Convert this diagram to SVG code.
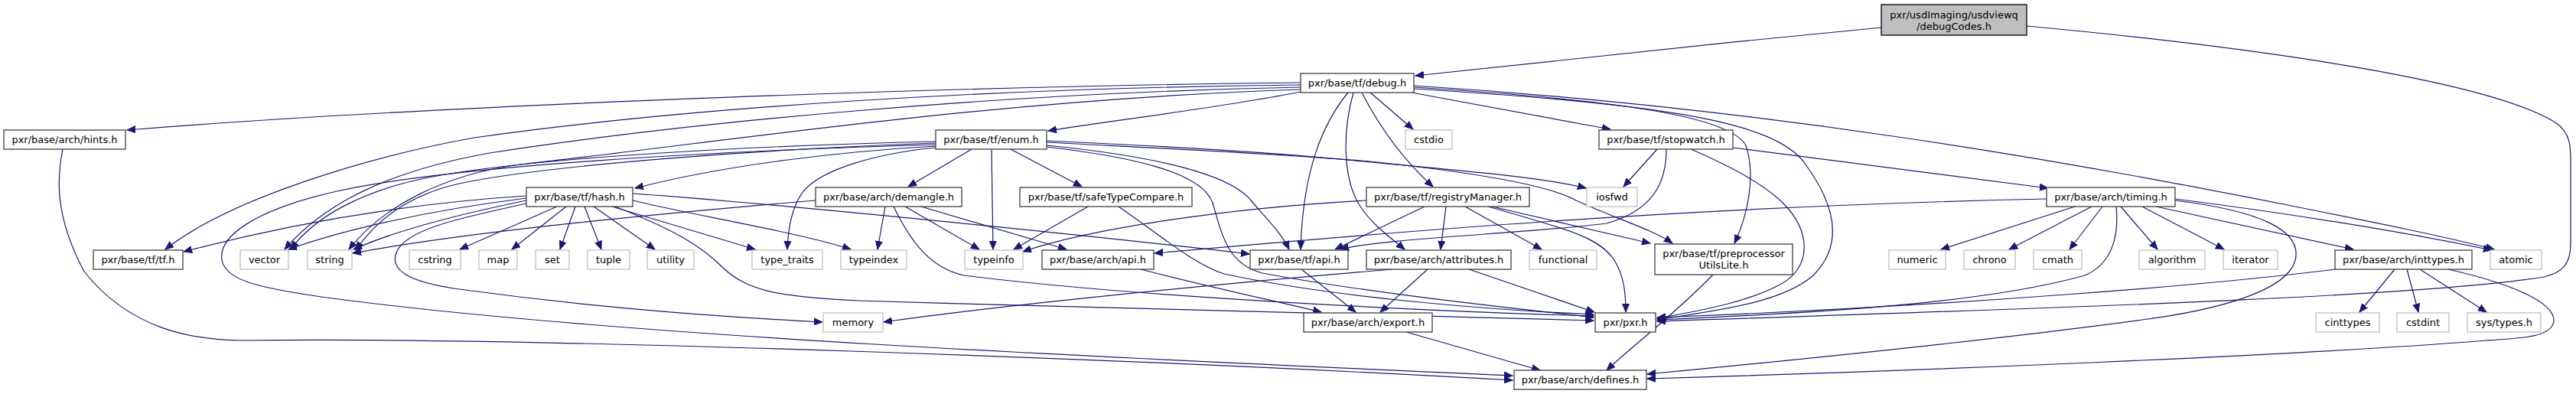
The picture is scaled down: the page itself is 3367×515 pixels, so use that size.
<svg xmlns="http://www.w3.org/2000/svg" width="3367" height="515" viewBox="0 0 3367 515">
<style>
rect{stroke-width:1.3}
.n rect{fill:#fff;stroke:#404040}
.x rect{fill:#fff;stroke:#bfbfbf}
.r rect{fill:#bfbfbf;stroke:#000}
text{font-family:"DejaVu Sans","Liberation Sans",sans-serif;font-size:13px;text-anchor:middle;fill:#000}
#edges path{fill:none;stroke:#191970;stroke-width:1.2;marker-end:url(#a)}
</style>
<defs>
<marker id="a" markerUnits="userSpaceOnUse" markerWidth="12" markerHeight="10" viewBox="0 0 12 10" refX="11" refY="5" orient="auto"><path d="M0,0.5 L11,5 L0,9.5 z" fill="#191970" stroke="#191970" stroke-width="1"/></marker>
</defs>
<rect width="3367" height="515" fill="#fff"/>
<g id="edges">
<path d="M2459,36 C2250,56 2000,82 1850,99"/>
<path d="M2649,34 C2950,62 3250,105 3340,160 C3362,175 3360,195 3360,220 L3360,318 C3360,345 3350,356 3325,362 C3150,390 2600,405 2166,420"/>
<path d="M1700,108 C1300,112 600,135 166,170"/>
<path d="M1700,111 C1300,115 900,140 620,180 C480,205 300,260 216,326"/>
<path d="M1700,114 C1300,122 900,160 640,200 C500,225 420,270 372,326"/>
<path d="M1700,117 C1300,130 950,185 680,215 C580,228 500,270 456,326"/>
<path d="M1700,120 C1600,140 1450,158 1370,171"/>
<path d="M1791,121 L1847,169"/>
<path d="M1845,121 L2105,169"/>
<path d="M1780,121 C1800,160 1830,205 1873,244"/>
<path d="M1762,121 C1730,160 1703,220 1700,326"/>
<path d="M1769,121 C1755,170 1755,230 1775,265 C1790,290 1810,305 1836,326"/>
<path d="M1848,112 C2300,140 2700,210 3000,270 C3100,290 3200,310 3260,326"/>
<path d="M1848,114 C2100,130 2260,150 2282,190 C2295,230 2285,280 2267,318"/>
<path d="M1848,116 C2150,135 2320,155 2360,215 C2400,270 2410,320 2370,360 C2330,395 2250,405 2166,418"/>
<path d="M2166,195 L2122,244"/>
<path d="M2178,195 C2178,240 2160,275 2100,292 C2000,305 1800,312 1752,326"/>
<path d="M2265,193 L2677,246"/>
<path d="M2210,195 C2245,210 2300,235 2330,265 C2370,305 2365,350 2330,370 C2290,393 2230,405 2166,416"/>
<path d="M1223,191 C1100,198 950,215 830,246"/>
<path d="M1223,185 C1000,190 700,205 560,232 C470,250 410,285 380,326"/>
<path d="M1223,187 C1000,195 720,215 600,240 C530,256 490,290 465,327"/>
<path d="M1223,189 C950,197 600,215 440,250 C330,275 285,310 290,340 C295,365 330,375 420,388 C800,440 1500,470 1977,491"/>
<path d="M1223,193 C1150,200 1075,220 1050,250 C1035,270 1030,300 1029,326"/>
<path d="M1270,195 L1187,244"/>
<path d="M1296,195 L1298,326"/>
<path d="M1321,195 L1414,244"/>
<path d="M1368,184 C1500,190 1650,198 1750,208 C1900,222 2020,232 2073,246"/>
<path d="M1368,186 C1500,193 1700,202 1800,212 C1950,228 2030,245 2060,262 C2110,285 2160,300 2186,318"/>
<path d="M1368,190 C1520,205 1610,230 1635,262 C1655,285 1675,305 1685,326"/>
<path d="M1368,192 C1480,205 1570,225 1585,265 C1598,310 1605,345 1650,357 C1800,385 2000,405 2083,415"/>
<path d="M688,256 C500,268 350,300 240,329"/>
<path d="M688,259 C560,275 450,300 377,326"/>
<path d="M688,262 C600,280 520,300 462,326"/>
<path d="M728,270 L601,326"/>
<path d="M740,270 L669,326"/>
<path d="M752,270 L732,326"/>
<path d="M764,270 L786,326"/>
<path d="M776,270 L856,326"/>
<path d="M800,270 L987,326"/>
<path d="M827,262 C900,280 1050,305 1112,326"/>
<path d="M827,253 C1000,265 1400,305 1633,332"/>
<path d="M688,266 C600,285 530,300 518,330 C510,352 530,368 600,378 C800,405 960,415 1075,421"/>
<path d="M804,270 C880,300 915,320 945,350 C975,378 1010,388 1122,393 C1500,405 1900,413 2083,419"/>
<path d="M1066,262 C850,280 600,305 461,331"/>
<path d="M1157,270 L1147,326"/>
<path d="M1183,270 L1280,326"/>
<path d="M1204,270 L1394,326"/>
<path d="M1168,270 C1190,315 1215,350 1260,360 C1500,390 1900,408 2083,413"/>
<path d="M1422,270 L1325,326"/>
<path d="M1462,270 C1520,310 1560,345 1600,358 C1750,390 1950,405 2083,411"/>
<path d="M1786,262 C1600,272 1420,300 1337,329"/>
<path d="M1862,270 L1745,326"/>
<path d="M1890,270 L1883,326"/>
<path d="M1915,270 L2015,326"/>
<path d="M1950,270 L2157,318"/>
<path d="M1945,270 C2050,300 2090,310 2110,340 C2122,360 2125,380 2125,408"/>
<path d="M1701,352 L1772,408"/>
<path d="M1491,352 C1580,375 1660,392 1727,408"/>
<path d="M1866,352 L1804,408"/>
<path d="M1820,352 C1600,370 1300,400 1155,421"/>
<path d="M1920,352 L2084,408"/>
<path d="M1838,434 L2013,484"/>
<path d="M2239,359 C2190,410 2130,455 2100,484"/>
<path d="M2675,260 C2200,270 1800,305 1509,331"/>
<path d="M2712,270 L2537,326"/>
<path d="M2734,270 L2626,326"/>
<path d="M2748,270 L2705,326"/>
<path d="M2772,270 L2820,326"/>
<path d="M2800,270 L2907,326"/>
<path d="M2818,270 L3076,326"/>
<path d="M2843,260 C3000,280 3150,305 3257,327"/>
<path d="M2766,270 C2770,310 2760,345 2725,360 C2600,395 2400,408 2166,418"/>
<path d="M2843,262 C2950,275 3010,300 3000,340 C2990,380 2900,405 2800,418 C2600,445 2300,475 2153,489"/>
<path d="M3130,352 L3084,408"/>
<path d="M3146,352 L3161,408"/>
<path d="M3163,352 L3250,408"/>
<path d="M3052,352 C2950,365 2800,378 2700,385 C2500,400 2300,410 2166,415"/>
<path d="M3200,352 C3280,370 3340,395 3338,420 C3335,440 3300,442 3250,445 C3000,465 2500,485 2153,495"/>
<path d="M82,195 C75,230 70,280 110,355 C170,430 250,445 320,445 C700,440 1500,470 1977,497"/>
</g>
<g id="root" class="r"><rect x="2459" y="6" width="190" height="40"/><text x="2554" y="23.5">pxr/usdImaging/usdviewq</text><text x="2554" y="38.5">/debugCodes.h</text></g>
<g id="debug" class="n"><rect x="1700" y="96" width="148" height="25"/><text x="1774" y="113">pxr/base/tf/debug.h</text></g>
<g id="hints" class="n"><rect x="5" y="170" width="159" height="25"/><text x="84.5" y="187">pxr/base/arch/hints.h</text></g>
<g id="enum" class="n"><rect x="1223" y="170" width="145" height="25"/><text x="1295.5" y="187">pxr/base/tf/enum.h</text></g>
<g id="cstdio" class="x"><rect x="1837" y="170" width="61" height="25"/><text x="1867.5" y="187">cstdio</text></g>
<g id="stopwatch" class="n"><rect x="2090" y="170" width="175" height="25"/><text x="2177.5" y="187">pxr/base/tf/stopwatch.h</text></g>
<g id="hash" class="n"><rect x="688" y="245" width="139" height="25"/><text x="757.5" y="262">pxr/base/tf/hash.h</text></g>
<g id="demangle" class="n"><rect x="1066" y="245" width="191" height="25"/><text x="1161.5" y="262">pxr/base/arch/demangle.h</text></g>
<g id="safeTypeCompare" class="n"><rect x="1333" y="245" width="225" height="25"/><text x="1445.5" y="262">pxr/base/tf/safeTypeCompare.h</text></g>
<g id="registryManager" class="n"><rect x="1786" y="245" width="213" height="25"/><text x="1892.5" y="262">pxr/base/tf/registryManager.h</text></g>
<g id="iosfwd" class="x"><rect x="2074" y="245" width="66" height="25"/><text x="2107" y="262">iosfwd</text></g>
<g id="timing" class="n"><rect x="2675" y="245" width="168" height="25"/><text x="2759" y="262">pxr/base/arch/timing.h</text></g>
<g id="tf" class="n"><rect x="122" y="327" width="117" height="25"/><text x="180.5" y="344">pxr/base/tf/tf.h</text></g>
<g id="vector" class="x"><rect x="314" y="327" width="63" height="25"/><text x="345.5" y="344">vector</text></g>
<g id="string" class="x"><rect x="402" y="327" width="58" height="25"/><text x="431" y="344">string</text></g>
<g id="cstring" class="x"><rect x="535" y="327" width="67" height="25"/><text x="568.5" y="344">cstring</text></g>
<g id="map" class="x"><rect x="626" y="327" width="50" height="25"/><text x="651" y="344">map</text></g>
<g id="set" class="x"><rect x="700" y="327" width="44" height="25"/><text x="722" y="344">set</text></g>
<g id="tuple" class="x"><rect x="768" y="327" width="55" height="25"/><text x="795.5" y="344">tuple</text></g>
<g id="utility" class="x"><rect x="846" y="327" width="61" height="25"/><text x="876.5" y="344">utility</text></g>
<g id="type_traits" class="x"><rect x="983" y="327" width="92" height="25"/><text x="1029" y="344">type_traits</text></g>
<g id="typeindex" class="x"><rect x="1099" y="327" width="86" height="25"/><text x="1142" y="344">typeindex</text></g>
<g id="typeinfo" class="x"><rect x="1261" y="327" width="76" height="25"/><text x="1299" y="344">typeinfo</text></g>
<g id="archapi" class="n"><rect x="1362" y="327" width="146" height="25"/><text x="1435" y="344">pxr/base/arch/api.h</text></g>
<g id="tfapi" class="n"><rect x="1634" y="327" width="128" height="25"/><text x="1698" y="344">pxr/base/tf/api.h</text></g>
<g id="attributes" class="n"><rect x="1786" y="327" width="189" height="25"/><text x="1880.5" y="344">pxr/base/arch/attributes.h</text></g>
<g id="functional" class="x"><rect x="1999" y="327" width="88" height="25"/><text x="2043" y="344">functional</text></g>
<g id="preprocessorUtilsLite" class="n"><rect x="2163" y="319" width="180" height="40"/><text x="2253" y="336">pxr/base/tf/preprocessor</text><text x="2253" y="351">UtilsLite.h</text></g>
<g id="numeric" class="x"><rect x="2469" y="327" width="74" height="25"/><text x="2506" y="344">numeric</text></g>
<g id="chrono" class="x"><rect x="2567" y="327" width="67" height="25"/><text x="2600.5" y="344">chrono</text></g>
<g id="cmath" class="x"><rect x="2658" y="327" width="63" height="25"/><text x="2689.5" y="344">cmath</text></g>
<g id="algorithm" class="x"><rect x="2796" y="327" width="86" height="25"/><text x="2839" y="344">algorithm</text></g>
<g id="iterator" class="x"><rect x="2906" y="327" width="71" height="25"/><text x="2941.5" y="344">iterator</text></g>
<g id="inttypes" class="n"><rect x="3052" y="327" width="179" height="25"/><text x="3141.5" y="344">pxr/base/arch/inttypes.h</text></g>
<g id="atomic" class="x"><rect x="3255" y="327" width="67" height="25"/><text x="3288.5" y="344">atomic</text></g>
<g id="memory" class="x"><rect x="1076" y="409" width="78" height="25"/><text x="1115" y="426">memory</text></g>
<g id="export" class="n"><rect x="1704" y="409" width="168" height="25"/><text x="1788" y="426">pxr/base/arch/export.h</text></g>
<g id="pxr" class="n"><rect x="2085" y="409" width="79" height="25"/><text x="2124.5" y="426">pxr/pxr.h</text></g>
<g id="cinttypes" class="x"><rect x="3027" y="409" width="83" height="25"/><text x="3068.5" y="426">cinttypes</text></g>
<g id="cstdint" class="x"><rect x="3133" y="409" width="68" height="25"/><text x="3167" y="426">cstdint</text></g>
<g id="systypes" class="x"><rect x="3225" y="409" width="96" height="25"/><text x="3273" y="426">sys/types.h</text></g>
<g id="defines" class="n"><rect x="1979" y="484" width="173" height="25"/><text x="2065.5" y="501">pxr/base/arch/defines.h</text></g>
</svg>
